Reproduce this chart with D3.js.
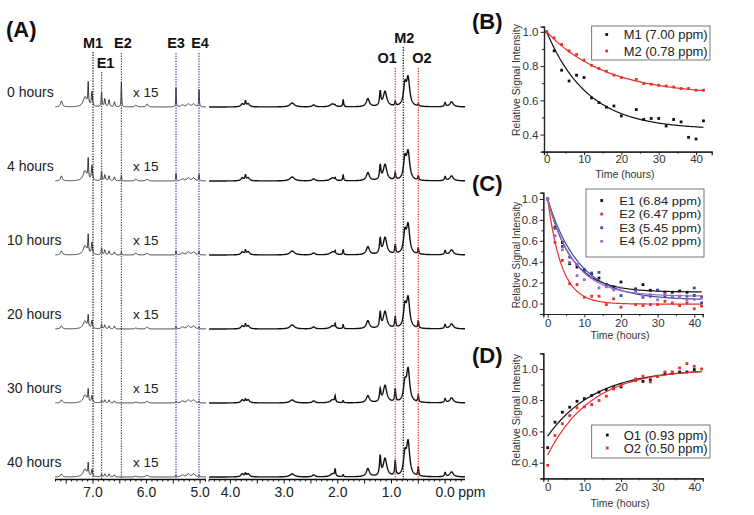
<!DOCTYPE html>
<html><head><meta charset="utf-8">
<script src="https://cdn.jsdelivr.net/npm/d3@7"></script>
<style>body{margin:0;background:#fff} svg{display:block} text{font-family:"Liberation Sans",Arial,Helvetica,sans-serif}</style>
</head><body><svg id="c" width="754" height="515"></svg>
<script>
// ================= PANEL A DATA =================
const spectrumTimes = ["0 hours","4 hours","10 hours","20 hours","30 hours","40 hours"];
// 4.9–7.7 ppm region (displayed x15): peak list
const lowPpm   = [7.59, 7.15, 7.09, 7.02, 6.84, 6.78, 6.70, 6.60, 6.47, 6.20, 5.99, 5.45, 5.33, 5.22, 5.12, 5.02];
const lowWidth = [0.02, 0.04, 0.008,0.012,0.008,0.012,0.012,0.012,0.006,0.02, 0.02, 0.006,0.03, 0.03, 0.03, 0.006];
const lowHeight = [
  [6, 10, 22, 15, 15, 8, 7, 5, 25, 2, 3, 19, 2, 3, 3, 19],
  [5, 10, 20, 15, 10, 6, 5, 4,  6, 2, 2,  7, 2, 3, 3,  7],
  [4,  9, 18, 12,  7, 5, 4, 3,  3, 2, 2,  4, 2, 3, 3,  4],
  [3,  8, 12,  8,  5, 4, 3, 3,  1, 1, 2,  3, 2, 3, 3,  2],
  [3,  8, 12,  7,  3, 3, 3, 2,  0, 1, 2,  2, 2, 3, 3,  2],
  [3,  8, 12,  7,  3, 3, 3, 2,  0, 1, 2,  2, 2, 3, 3,  2]
];
// -0.4–4.4 ppm region
const highPpm   = [3.78, 3.72, 3.67, 2.85, 2.45, 2.10, 2.05, 1.90, 1.44, 1.21, 1.12, 0.93, 0.75, 0.69, 0.50, 0.00, -0.12];
const highWidth = [0.03, 0.012,0.03, 0.05, 0.03, 0.05, 0.01, 0.01, 0.035,0.015,0.04, 0.012,0.03, 0.035,0.01, 0.015,0.04];
const highHeight = [
  [3, 5, 3, 4, 2, 3, 1, 7,  8, 14, 15,  4, 20, 27, 2, 4, 5],
  [3, 5, 3, 4, 2, 3, 2, 6,  8, 14, 16,  7, 20, 27, 4, 4, 5],
  [3, 4, 3, 4, 2, 3, 3, 5,  8, 15, 17,  9, 20, 28, 6, 4, 5],
  [3, 4, 3, 4, 2, 3, 4, 4,  8, 15, 17, 11, 20, 29, 7, 4, 5],
  [3, 3, 3, 3, 2, 3, 6, 2,  7, 12, 17, 13, 17, 32, 7, 4, 5],
  [3, 3, 3, 3, 2, 3, 7, 2,  8, 19, 18, 15, 20, 33, 9, 4, 5]
];
const markerNames = ["M1","E1","E2","E3","E4","M2","O1","O2"];
const markerPpm   = [7.00, 6.84, 6.47, 5.45, 5.02, 0.78, 0.93, 0.50];
const markerGroup = ["M","E","E","E","E","M","O","O"];
const lowTickLabels  = [7.0, 6.0, 5.0];
const highTickLabels = [4.0, 3.0, 2.0, 1.0, 0.0];

// ================= PANELS B–D DATA =================
const timeH = [0,2,4,6,8,10,12,14,16,18,20,24,26,28,30,32,34,36,38,40,42];
const m1 = [1.0,0.889,0.776,0.713,0.747,0.733,0.614,0.587,0.560,0.567,0.509,0.546,0.489,0.494,0.494,0.450,0.488,0.474,0.384,0.374,0.480];
const m2 = [1.0,0.965,0.926,0.889,0.868,0.835,0.805,0.786,0.770,0.747,0.733,0.722,0.698,0.694,0.688,0.684,0.678,0.669,0.669,0.659,0.659];
const e1 = [1.0,0.730,0.584,0.381,0.349,0.324,0.286,0.244,0.181,0.159,0.206,0.140,0.181,0.127,0.127,0.108,0.108,0.120,0.108,0.076,0.063];
const e2 = [1.0,0.584,0.413,0.190,0.181,0.060,0.070,0.070,-0.010,0.045,-0.035,-0.010,-0.020,-0.010,-0.010,0.022,0.006,-0.020,0.006,-0.050,-0.025];
const e3 = [1.0,0.720,0.546,0.444,0.371,0.308,0.292,0.298,0.171,0.140,0.076,0.130,0.060,0.070,0.127,0.070,0.060,0.070,0.070,0.149,0.006];
const e4 = [1.0,0.648,0.514,0.394,0.267,0.229,0.250,0.149,0.160,0.130,0.150,0.108,0.070,0.085,0.035,0.092,0.060,0.055,0.035,0.040,0.055];
const o1 = [0.496,0.659,0.723,0.755,0.793,0.810,0.830,0.851,0.868,0.880,0.885,0.927,0.920,0.930,0.953,0.968,0.974,0.980,0.980,0.996,null];
const o2 = [0.383,0.574,0.649,0.702,0.751,0.757,0.772,0.798,0.825,0.872,0.893,0.936,0.953,0.917,0.953,0.981,0.981,1.006,1.034,1.017,1.000];
// exponential fits: y = plateau + amp * exp(-t / tau)  [plateau, amp, tau]
const fitM1 = [0.43, 0.57, 11];
const fitM2 = [0.63, 0.37, 16];
const fitE1 = [0.11, 0.89, 6.5];
const fitE2 = [-0.005, 1.005, 3.8];
const fitE3 = [0.035, 0.965, 8.5];
const fitE4 = [0.07, 0.93, 7];
const fitO1 = [1.0, -0.43, 13];
const fitO2 = [1.0, -0.55, 12];

// ================= DRAWING =================
const svg = d3.select("#c");
const FONT = '"Liberation Sans",Arial,Helvetica,sans-serif';

// ---- Panel A ----
const xLow  = d3.scaleLinear().domain([7.71, 4.89]).range([55, 206]);
const xHigh = d3.scaleLinear().domain([4.40, -0.37]).range([209, 465]);
const yBase = d3.scalePoint().domain(spectrumTimes).range([107, 477]);
const yInt  = d3.scaleLinear().domain([0, 40]).range([0, 40]);
const axisY = 479.5;

function specLine(ppms, widths, heights, x, base) {
  const [a, b] = x.domain();
  const grid = d3.range(Math.min(a,b), Math.max(a,b), 0.004);
  const pts = grid.map(p => {
    let s = 0;
    for (let k = 0; k < ppms.length; k++) {
      const d = (p - ppms[k]) / widths[k];
      s += heights[k] / (1 + d*d);
    }
    return [x(p), base - yInt(s)];
  });
  return d3.line()(pts);
}

const gA = svg.append("g");
spectrumTimes.forEach((t, i) => {
  const base = yBase(t);
  gA.append("path").attr("d", specLine(lowPpm, lowWidth, lowHeight[i], xLow, base))
    .attr("fill","none").attr("stroke","#222").attr("stroke-width",0.9);
  gA.append("path").attr("d", specLine(highPpm, highWidth, highHeight[i], xHigh, base))
    .attr("fill","none").attr("stroke","#111").attr("stroke-width",1.4);
  gA.append("text").attr("x", 7).attr("y", base - 10).attr("font-size", 14).attr("fill","#222").text(t);
  gA.append("text").attr("x", 133).attr("y", base - 10).attr("font-size", 13.5).attr("fill","#222").text("x 15");
});

// marker lines
const groupColor = {M:"#111", E:"#3b3fa6", O:"#e02a2a"};
const lineTop = {M1:52, E1:72, E2:53, E3:53, E4:53, M2:47, O1:68, O2:68};
const labelPos = {M1:[0,48], E1:[4,68], E2:[1.5,48], E3:[0,48], E4:[1,48], M2:[1,43], O1:[-8,63], O2:[3.5,63]};
markerNames.forEach((n, i) => {
  const p = markerPpm[i];
  const x = p > 4.6 ? xLow(p) : xHigh(p);
  gA.append("line").attr("x1", x).attr("x2", x).attr("y1", lineTop[n]).attr("y2", axisY)
    .attr("stroke", groupColor[markerGroup[i]]).attr("stroke-width", 1.2).attr("stroke-dasharray", "1.3,1.3");
  gA.append("text").attr("x", x + labelPos[n][0]).attr("y", labelPos[n][1])
    .attr("text-anchor","middle").attr("font-size", 14.5).attr("font-weight","bold").attr("fill","#111").text(n);
});

// ppm axes
function ppmAxis(x, labels, withUnit) {
  const [a, b] = x.domain();
  const lo = Math.min(a,b), hi = Math.max(a,b);
  const g = gA.append("g");
  g.append("line").attr("x1", x.range()[0]).attr("x2", x.range()[1]).attr("y1", axisY).attr("y2", axisY)
    .attr("stroke","#111").attr("stroke-width",1.3);
  d3.range(Math.ceil(lo*10), Math.floor(hi*10)+1).forEach(k => {
    const v = k/10, major = (k % 5 === 0);
    g.append("line").attr("x1", x(v)).attr("x2", x(v)).attr("y1", axisY).attr("y2", axisY + (major ? 4 : 2))
      .attr("stroke","#111").attr("stroke-width", 1);
  });
  labels.forEach(v => {
    g.append("text").attr("x", x(v)).attr("y", 497).attr("text-anchor","middle").attr("font-size", 14)
      .attr("fill","#222").text(v.toFixed(1));
  });
  if (withUnit) g.append("text").attr("x", x(0) + 13).attr("y", 497).attr("font-size", 14).attr("fill","#222").text("ppm");
}
ppmAxis(xLow, lowTickLabels, false);
ppmAxis(xHigh, highTickLabels, true);

gA.append("text").attr("x", 6).attr("y", 37).attr("font-size", 22).attr("font-weight","bold").attr("fill","#111").text("(A)");

// ---- Panels B–D ----
function panel(cfg) {
  const g = svg.append("g");
  const x = d3.scaleLinear().domain(cfg.xd).range(cfg.xr);
  const y = d3.scaleLinear().domain(cfg.yd).range(cfg.yr);
  // axes
  const xa = d3.axisBottom(x).tickValues([0,10,20,30,40]).tickSize(3.5).tickPadding(cfg.xPad).tickFormat(d3.format("d"));
  const xm = d3.axisBottom(x).tickValues([5,15,25,35]).tickSize(2).tickFormat("");
  const ya = d3.axisLeft(y).tickValues(cfg.yt).tickSize(3.5).tickPadding(2).tickFormat(d3.format(".1f"));
  const ym = d3.axisLeft(y).tickValues(cfg.ym).tickSize(2).tickFormat("");
  [xa, xm].forEach(ax => g.append("g").attr("transform", `translate(0,${cfg.yr[0]})`).call(ax));
  [ya, ym].forEach(ax => g.append("g").attr("transform", `translate(${cfg.xr[0]},0)`).call(ax));
  g.selectAll(".domain").attr("stroke","#222").attr("stroke-width",1.2);
  g.selectAll(".tick line").attr("stroke","#222");
  g.selectAll(".tick text").attr("font-size", 11.5).attr("font-family", FONT).attr("fill","#333");
  // titles
  g.append("text").attr("x", (cfg.xr[0]+cfg.xr[1])/2 - 3).attr("y", cfg.xTitleY).attr("text-anchor","middle")
    .attr("font-size", 10.5).attr("fill","#333").text("Time (hours)");
  g.append("text").attr("transform", `translate(${520},${cfg.yTitleC}) rotate(-90)`).attr("text-anchor","middle")
    .attr("font-size", cfg.yTitleSize).attr("fill","#333").text("Relative Signal Intensity");
  g.append("text").attr("x", 472).attr("y", cfg.labelY).attr("font-size", 22).attr("font-weight","bold")
    .attr("fill","#111").text(cfg.label);
  // series
  const tGrid = d3.range(0, 42.01, 0.25);
  cfg.series.forEach(s => {
    g.append("path").attr("d", d3.line()(tGrid.map(t => [x(t), y(s.fit[0] + s.fit[1]*Math.exp(-t/s.fit[2]))])))
      .attr("fill","none").attr("stroke", s.color).attr("stroke-width", 1.2);
    timeH.forEach((t, i) => {
      const v = s.values[i];
      if (v === null || v === undefined) return;
      g.append("rect").attr("x", x(t) - 1.4).attr("y", y(v) - 1.4).attr("width", 2.8).attr("height", 2.8)
        .attr("fill", s.color);
    });
  });
  // legend
  const L = cfg.legend;
  g.append("rect").attr("x", L.x).attr("y", L.y).attr("width", L.w).attr("height", L.h)
    .attr("fill","#fff").attr("stroke","#555").attr("stroke-width",0.8);
  cfg.series.forEach((s, i) => {
    const cy = L.y + L.first + i*L.step;
    g.append("rect").attr("x", L.x + L.dot - 1.4).attr("y", cy - 1.4).attr("width", 2.8).attr("height", 2.8).attr("fill", s.color);
    g.append("text").attr("x", L.x + L.text).attr("y", cy + L.fs*0.36).attr("font-size", L.fs)
      .attr("textLength", L.tl).attr("lengthAdjust","spacingAndGlyphs").attr("fill","#222").text(s.name);
  });
}

panel({
  label:"(B)", labelY:29,
  xd:[-0.72, 44.2], xr:[544, 711.7], yd:[0.3, 1.03], yr:[151.7, 26.7],
  yt:[0.4,0.6,0.8,1.0], ym:[0.3,0.5,0.7,0.9], xPad:0,
  xTitleY:178, yTitleC:80, yTitleSize:10.5,
  legend:{x:591.7, y:26, w:118.3, h:34, first:8.5, step:16.5, dot:15, text:32, fs:13.5, tl:84},
  series:[
    {name:"M1 (7.00 ppm)", values:m1, fit:fitM1, color:"#111"},
    {name:"M2 (0.78 ppm)", values:m2, fit:fitM2, color:"#e8302a"}
  ]
});
panel({
  label:"(C)", labelY:191,
  xd:[-1.2, 42.3], xr:[543.3, 702.7], yd:[-0.1, 1.06], yr:[314, 192.7],
  yt:[0.0,0.2,0.4,0.6,0.8,1.0], ym:[0.1,0.3,0.5,0.7,0.9], xPad:1,
  xTitleY:339, yTitleC:255, yTitleSize:10,
  legend:{x:586, y:189, w:118, h:68, first:11.5, step:13.6, dot:15.7, text:33.3, fs:11.2, tl:82},
  series:[
    {name:"E1 (6.84 ppm)", values:e1, fit:fitE1, color:"#111"},
    {name:"E2 (6.47 ppm)", values:e2, fit:fitE2, color:"#e8302a"},
    {name:"E3 (5.45 ppm)", values:e3, fit:fitE3, color:"#3c4aa8"},
    {name:"E4 (5.02 ppm)", values:e4, fit:fitE4, color:"#9a6cc8"}
  ]
});
panel({
  label:"(D)", labelY:363,
  xd:[-1.2, 42.3], xr:[543.3, 702.7], yd:[0.3, 1.1], yr:[478.3, 353.3],
  yt:[0.4,0.6,0.8,1.0], ym:[0.3,0.5,0.7,0.9,1.1], xPad:1,
  xTitleY:507, yTitleC:410, yTitleSize:10.5,
  legend:{x:591.7, y:425, w:118.3, h:33, first:10, step:13, dot:15.6, text:32, fs:12.5, tl:84},
  series:[
    {name:"O1 (0.93 ppm)", values:o1, fit:fitO1, color:"#111"},
    {name:"O2 (0.50 ppm)", values:o2, fit:fitO2, color:"#e8302a"}
  ]
});
</script></body></html>
